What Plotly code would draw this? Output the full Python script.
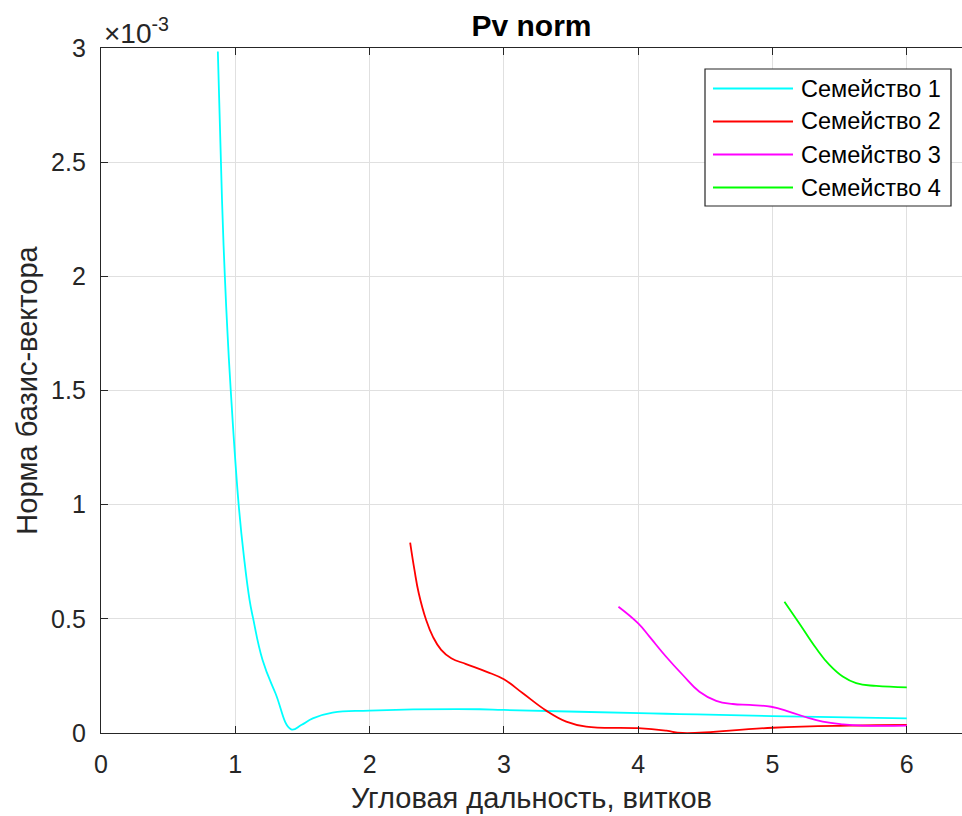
import plotly.graph_objects as go

# values of the norm in units of 1e-3
fam1_x = [0.870, 0.901, 0.922, 0.942, 0.966, 1.025, 1.067, 1.106, 1.132, 1.203, 1.299, 1.416,
          1.491, 1.577, 1.724, 2.0, 2.82, 3.0, 4.09, 4.31, 5.0, 6.0]
fam1_y = [2.985, 2.335, 2.002, 1.752, 1.502, 1.000, 0.758, 0.583, 0.504, 0.320, 0.174, 0.016,
          0.035, 0.064, 0.089, 0.098, 0.104, 0.101, 0.086, 0.083, 0.074, 0.064]

fam2_x = [2.302, 2.334, 2.366, 2.421, 2.471, 2.533, 2.608, 2.719, 2.868, 3.0, 3.141, 3.315,
          3.464, 3.613, 4.0, 4.21, 4.33, 5.0, 5.57, 6.0]
fam2_y = [0.834, 0.714, 0.612, 0.495, 0.422, 0.364, 0.327, 0.302, 0.269, 0.235, 0.174, 0.098,
          0.050, 0.028, 0.021, 0.010, 0.000, 0.023, 0.032, 0.035]

fam3_x = [3.853, 4.0, 4.084, 4.208, 4.332, 4.456, 4.581, 4.705, 4.829, 4.990, 5.127, 5.251,
          5.374, 5.523, 5.672, 6.0]
fam3_y = [0.553, 0.480, 0.422, 0.334, 0.254, 0.181, 0.141, 0.127, 0.123, 0.115, 0.093, 0.069,
          0.050, 0.038, 0.032, 0.032]

fam4_x = [5.089, 5.2, 5.325, 5.424, 5.523, 5.623, 5.772, 6.0]
fam4_y = [0.575, 0.480, 0.371, 0.298, 0.247, 0.218, 0.206, 0.200]

names = ["Семейство 1", "Семейство 2", "Семейство 3", "Семейство 4"]
colors = ["#00FFFF", "#FF0000", "#FF00FF", "#00FF00"]
xs = [fam1_x, fam2_x, fam3_x, fam4_x]
ys = [fam1_y, fam2_y, fam3_y, fam4_y]

x_ticks = [0, 1, 2, 3, 4, 5, 6]
y_ticks = [0, 0.5, 1, 1.5, 2, 2.5, 3]
y_tick_text = ["0", "0.5", "1", "1.5", "2", "2.5", "3"]

FONT = "Liberation Sans, Arial, sans-serif"
AX = "#262626"

fig = go.Figure()
for x, y, n, c in zip(xs, ys, names, colors):
    fig.add_trace(go.Scatter(x=x, y=y, name=n, mode="lines",
                             line=dict(color=c, width=1.8, shape="spline", smoothing=1.25),
                             showlegend=False))

fig.update_layout(
    width=962, height=816,
    margin=dict(l=101, r=0, t=48, b=83),
    paper_bgcolor="white", plot_bgcolor="white",
    font=dict(family=FONT, color=AX),
    title=dict(text="<b>Pv norm</b>", x=(101 + 962) / 2 / 962, xanchor="center",
               y=1 - 25 / 816, yanchor="middle", font=dict(size=30, color="#000000")),
    xaxis=dict(range=[0, 6.411], tickvals=x_ticks, ticks="inside", ticklen=7, tickcolor=AX,
               showline=True, linecolor=AX, linewidth=1.3, mirror="ticks",
               showgrid=True, gridcolor="#e0e0e0", gridwidth=1, zeroline=False,
               tickfont=dict(size=25, color=AX), ticklabelstandoff=9,
               title=dict(text="Угловая дальность, витков", font=dict(size=29, color=AX), standoff=10)),
    yaxis=dict(range=[0, 3.0], tickvals=y_ticks, ticktext=y_tick_text, ticks="inside", ticklen=7,
               tickcolor=AX, showline=True, linecolor=AX, linewidth=1.3, mirror=False,
               showgrid=True, gridcolor="#e0e0e0", gridwidth=1, zeroline=False,
               tickfont=dict(size=25, color=AX), ticklabelstandoff=9,
               title=dict(text="Норма базис-вектора", font=dict(size=29, color=AX), standoff=4)),
)

# exponent label
fig.add_annotation(text="×10<sup>-3</sup>", xref="paper", yref="paper", x=0.0, y=1.0,
                   xanchor="left", yanchor="bottom", showarrow=False,
                   font=dict(size=28, color=AX, family=FONT), xshift=1, yshift=-3)

# legend box (drawn manually to match the long line samples)
def px(xp):
    return (xp - 101) / 861

def py(yp):
    return (733 - yp) / 685

fig.add_shape(type="rect", xref="paper", yref="paper", x0=px(705), x1=px(951), y0=py(206), y1=py(69),
              line=dict(color="#262626", width=1.2), fillcolor="white", layer="above")
leg_y = [88.5, 121.5, 154.5, 187.5]
for n, c, ly in zip(names, colors, leg_y):
    fig.add_shape(type="line", xref="paper", yref="paper", x0=px(713), x1=px(793), y0=py(ly), y1=py(ly),
                  line=dict(color=c, width=1.8), layer="above")
    fig.add_annotation(text=n, xref="paper", yref="paper", x=px(799), y=py(ly), xanchor="left",
                       yanchor="middle", showarrow=False, font=dict(size=23.5, color="#000000", family=FONT))

fig.write_html("out.html")
